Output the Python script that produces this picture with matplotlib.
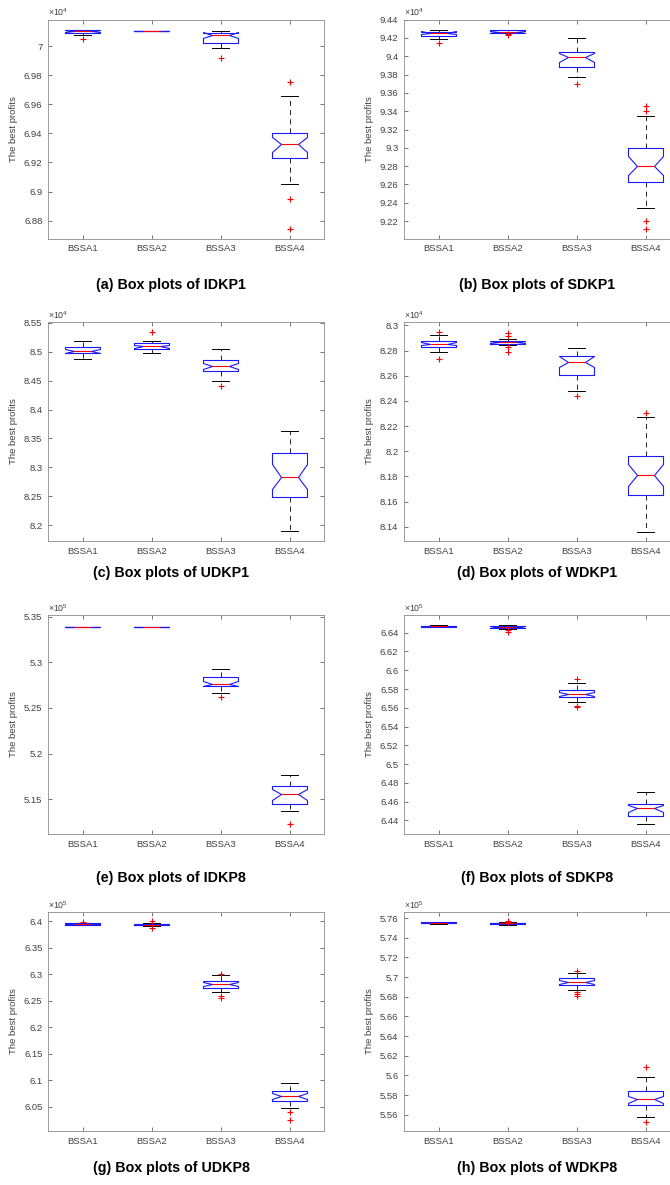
import numpy as np
import matplotlib
matplotlib.use("Agg")
import matplotlib.pyplot as plt
from matplotlib.ticker import MultipleLocator, FuncFormatter

plt.rcParams['font.family'] = ['Liberation Sans', 'DejaVu Sans']
plt.rcParams['mathtext.fontset'] = 'custom'
plt.rcParams['mathtext.rm'] = 'Liberation Sans'

# ---- data (values in units of 10^exponent) ----
algorithms = ["BSSA1", "BSSA2", "BSSA3", "BSSA4"]
captions = ["(a) Box plots of IDKP1", "(b) Box plots of SDKP1",
            "(c) Box plots of UDKP1", "(d) Box plots of WDKP1",
            "(e) Box plots of IDKP8", "(f) Box plots of SDKP8",
            "(g) Box plots of UDKP8", "(h) Box plots of WDKP8"]
exponents = [4, 4, 4, 4, 5, 5, 5, 5]

medians = [
    [7.0103, 7.0106, 7.0076, 6.9324],
    [9.4258, 9.4266, 9.3987, 9.2803],
    [8.5017, 8.5092, 8.4757, 8.2838],
    [8.2854, 8.2867, 8.2712, 8.1812],
    [5.3383, 5.3383, 5.2765, 5.1554],
    [6.6468, 6.6461, 6.5744, 6.4528],
    [6.3950, 6.3937, 6.2815, 6.0702],
    [5.7552, 5.7545, 5.6949, 5.5757],
]
q1 = [
    [7.0088, 7.0106, 7.0019, 6.9231],
    [9.4225, 9.4255, 9.3882, 9.2628],
    [8.4977, 8.5046, 8.4670, 8.2491],
    [8.2832, 8.2856, 8.2606, 8.1650],
    [5.3383, 5.3383, 5.2736, 5.1449],
    [6.6461, 6.6450, 6.5712, 6.4450],
    [6.3931, 6.3924, 6.2739, 6.0608],
    [5.7545, 5.7539, 5.6922, 5.5702],
]
q3 = [
    [7.0110, 7.0106, 7.0092, 6.9402],
    [9.4269, 9.4283, 9.4047, 9.2994],
    [8.5087, 8.5150, 8.4861, 8.3254],
    [8.2877, 8.2880, 8.2760, 8.1961],
    [5.3383, 5.3383, 5.2837, 5.1648],
    [6.6475, 6.6471, 6.5787, 6.4578],
    [6.3962, 6.3956, 6.2878, 6.0803],
    [5.7559, 5.7552, 5.6986, 5.5839],
]
whisk_lo = [
    [7.0076, 7.0106, 6.9991, 6.9051],
    [9.4189, 9.4255, 9.3772, 9.2347],
    [8.4879, 8.4977, 8.4497, 8.1902],
    [8.2792, 8.2843, 8.2481, 8.1362],
    [5.3383, 5.3383, 5.2664, 5.1377],
    [6.6457, 6.6443, 6.5662, 6.4361],
    [6.3925, 6.3905, 6.2670, 6.0482],
    [5.7542, 5.7532, 5.6864, 5.5580],
]
whisk_hi = [
    [7.0110, 7.0106, 7.0106, 6.9657],
    [9.4291, 9.4283, 9.4196, 9.3348],
    [8.5179, 8.5179, 8.5046, 8.3630],
    [8.2920, 8.2893, 8.2819, 8.2273],
    [5.3383, 5.3383, 5.2928, 5.1764],
    [6.6479, 6.6478, 6.5862, 6.4703],
    [6.3968, 6.3968, 6.2985, 6.0955],
    [5.7562, 5.7555, 5.7038, 5.5982],
]
outliers = [
    [[7.0053], [], [6.9922], [6.9756, 6.8952, 6.8743]],
    [[9.4145], [9.4238, 9.4232], [9.3699], [9.3458, 9.3406, 9.2200, 9.2112]],
    [[], [8.5341], [8.4399], []],
    [[8.2947, 8.2734], [8.2936, 8.2915, 8.2827, 8.2792], [8.2441], [8.2302]],
    [[], [], [5.2624], [5.1229]],
    [[], [6.6425, 6.6411], [6.5904, 6.5619, 6.5605], []],
    [[6.3987], [6.4000, 6.3874], [6.3004, 6.2588, 6.2562], [6.0406, 6.0248]],
    [[], [5.7569, 5.7559], [5.7065, 5.6844, 5.6827, 5.6810], [5.6084, 5.5532]],
]
y_limits = [(6.8677, 7.0184), (9.2010, 9.4401), (8.1728, 8.5514), (8.1287, 8.3027),
            (5.1120, 5.3517), (6.4254, 6.6589), (6.0046, 6.4177), (5.5436, 5.7661)]
y_steps = [0.02, 0.02, 0.05, 0.02, 0.05, 0.02, 0.05, 0.02]
n_runs = 30

# ---- layout (pixels of a 670 x 1185 canvas) ----
W, H = 670, 1185
col_left = [48, 404]
row_top = [19.5, 322, 615, 912]
ax_w, ax_h = 276, 219
caption_x = [171, 537]
caption_y = [285, 573, 878, 1168]

text_col = '#404040'
fig = plt.figure(figsize=(W / 100, H / 100), dpi=100)

for i in range(8):
    row, col = divmod(i, 2)
    ax = fig.add_axes([col_left[col] / W, 1 - (row_top[row] + ax_h) / H,
                       ax_w / W, ax_h / H])

    stats = []
    for j, name in enumerate(algorithms):
        iqr = q3[i][j] - q1[i][j]
        half = 1.57 * iqr / np.sqrt(n_runs)
        stats.append(dict(label=name, med=medians[i][j], q1=q1[i][j], q3=q3[i][j],
                          whislo=whisk_lo[i][j], whishi=whisk_hi[i][j],
                          fliers=outliers[i][j],
                          cilo=medians[i][j] - half, cihi=medians[i][j] + half))

    # caps/whiskers below the box so collapsed boxes still show blue + red
    ax.bxp(stats, positions=[1, 2, 3, 4], widths=0.5, shownotches=True,
           boxprops=dict(color='#1a1aff', lw=0.8, zorder=2.2, snap=True),
           medianprops=dict(color='red', lw=0.8, zorder=2.3, snap=True),
           whiskerprops=dict(color='black', lw=0.6, ls=(0, (6, 5)), zorder=2.0),
           capprops=dict(color='black', lw=0.7, zorder=2.0, snap=True),
           flierprops=dict(marker='+', markeredgecolor='red', markersize=4.5,
                           mew=0.8, linestyle='none', zorder=2.4))

    ax.set_xlim(0.5, 4.5)
    ax.set_ylim(*y_limits[i])
    ax.yaxis.set_major_locator(MultipleLocator(y_steps[i]))
    ax.yaxis.set_major_formatter(FuncFormatter(lambda v, p: f"{round(v, 4):g}"))
    ax.tick_params(direction='in', length=3, width=0.5, top=True, right=True,
                   labelsize=6.8, colors=text_col, pad=4)
    for sp in ax.spines.values():
        sp.set_color('#8c8c8c')
        sp.set_linewidth(0.6)
    ax.set_ylabel('The best profits', fontsize=6.8, color=text_col, labelpad=4)
    ax.text(0.0, 1.006, r'×10$^{%d}$' % exponents[i], transform=ax.transAxes,
            fontsize=6.3, color=text_col, ha='left', va='bottom')

    fig.text(caption_x[col] / W, 1 - caption_y[row] / H, captions[i],
             fontsize=10.3, fontweight='bold', ha='center', va='center')

fig.savefig('out.png', dpi=100)
